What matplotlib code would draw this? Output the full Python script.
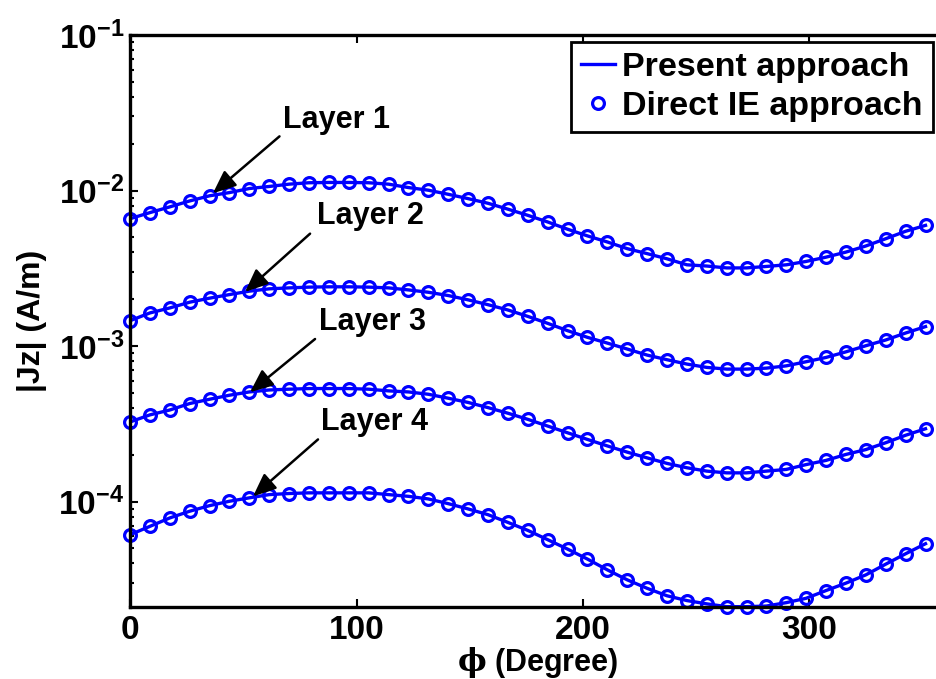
import numpy as np
import matplotlib.pyplot as plt
from matplotlib.ticker import LogLocator, FuncFormatter, NullFormatter, FixedLocator

plt.rcParams['font.family'] = 'Liberation Sans'
plt.rcParams['font.weight'] = 'bold'
plt.rcParams['mathtext.fontset'] = 'custom'
plt.rcParams['mathtext.bf'] = 'Liberation Sans:bold'
plt.rcParams['mathtext.rm'] = 'Liberation Sans:bold'
plt.rcParams['mathtext.it'] = 'DejaVu Serif'

# observation angles (degrees), 41 samples around the cylinder
phi = np.arange(41) * 360.0 / 41

# |Jz| on each layer (A/m)
layer1 = [6.59e-3, 7.21e-3, 7.85e-3, 8.57e-3, 9.25e-3, 9.70e-3, 1.030e-2, 1.062e-2,
          1.099e-2, 1.122e-2, 1.127e-2, 1.127e-2, 1.122e-2, 1.099e-2, 1.045e-2, 1.005e-2,
          9.46e-3, 8.87e-3, 8.28e-3, 7.59e-3, 6.93e-3, 6.28e-3, 5.64e-3, 5.11e-3,
          4.67e-3, 4.23e-3, 3.93e-3, 3.64e-3, 3.33e-3, 3.27e-3, 3.18e-3, 3.18e-3,
          3.25e-3, 3.33e-3, 3.50e-3, 3.73e-3, 4.02e-3, 4.40e-3, 4.90e-3, 5.47e-3, 5.97e-3]
layer2 = [1.455e-3, 1.633e-3, 1.758e-3, 1.914e-3, 2.032e-3, 2.143e-3, 2.254e-3, 2.333e-3,
          2.366e-3, 2.393e-3, 2.404e-3, 2.404e-3, 2.393e-3, 2.366e-3, 2.296e-3, 2.218e-3,
          2.113e-3, 1.982e-3, 1.845e-3, 1.706e-3, 1.552e-3, 1.400e-3, 1.256e-3, 1.138e-3,
          1.045e-3, 9.57e-4, 8.75e-4, 8.17e-4, 7.66e-4, 7.29e-4, 7.11e-4, 7.11e-4,
          7.21e-4, 7.46e-4, 7.93e-4, 8.45e-4, 9.18e-4, 1.005e-3, 1.094e-3, 1.213e-3, 1.334e-3]
layer3 = [3.25e-4, 3.61e-4, 3.88e-4, 4.27e-4, 4.55e-4, 4.83e-4, 5.07e-4, 5.22e-4,
          5.28e-4, 5.33e-4, 5.33e-4, 5.33e-4, 5.28e-4, 5.15e-4, 5.07e-4, 4.90e-4,
          4.62e-4, 4.34e-4, 4.02e-4, 3.70e-4, 3.38e-4, 3.06e-4, 2.77e-4, 2.51e-4,
          2.28e-4, 2.08e-4, 1.91e-4, 1.76e-4, 1.65e-4, 1.57e-4, 1.53e-4, 1.53e-4,
          1.57e-4, 1.61e-4, 1.73e-4, 1.84e-4, 2.01e-4, 2.16e-4, 2.39e-4, 2.67e-4, 2.94e-4]
layer4 = [6.12e-5, 6.93e-5, 7.85e-5, 8.67e-5, 9.42e-5, 1.005e-4, 1.057e-4, 1.109e-4,
          1.127e-4, 1.138e-4, 1.138e-4, 1.138e-4, 1.138e-4, 1.109e-4, 1.081e-4, 1.040e-4,
          9.70e-5, 8.97e-5, 8.24e-5, 7.35e-5, 6.53e-5, 5.69e-5, 4.95e-5, 4.27e-5,
          3.64e-5, 3.14e-5, 2.77e-5, 2.48e-5, 2.31e-5, 2.20e-5, 2.11e-5, 2.11e-5,
          2.13e-5, 2.24e-5, 2.39e-5, 2.68e-5, 2.99e-5, 3.38e-5, 3.96e-5, 4.62e-5, 5.36e-5]
layers = [layer1, layer2, layer3, layer4]
layer_names = ['Layer 1', 'Layer 2', 'Layer 3', 'Layer 4']

# annotation placement: label centre, arrow tail, arrow tip (phi, |Jz|)
label_pos = [(91, 2.83e-2), (106, 6.9e-3), (107, 1.43e-3), (108, 3.24e-4)]
arrow_tail = [(66, 2.23e-2), (79.5, 5.28e-3), (81.7, 1.11e-3), (83, 2.51e-4)]
arrow_tip = [(36.6, 9.6e-3), (50.8, 2.23e-3), (53, 5.05e-4), (54.3, 1.08e-4)]

W, H = 937, 679
fig = plt.figure(figsize=(W / 100, H / 100), dpi=100)
x0, x1, y0, y1 = 130, 945.4, 35, 607
ax = fig.add_axes([x0 / W, 1 - y1 / H, (x1 - x0) / W, (y1 - y0) / H])

blue = (0, 0, 1)
for i, vals in enumerate(layers):
    ax.plot(phi, vals, '-', color=blue, lw=2.4,
            label='Present approach' if i == 0 else None)
for i, vals in enumerate(layers):
    ax.plot(phi, vals, 'o', color=blue, mfc='none', ms=8.5, mew=2.3, clip_on=False,
            label='Direct IE approach' if i == 0 else None)

ax.set_yscale('log')
ax.set_xlim(0, 360)
ax.set_ylim(2.1e-5, 1e-1)

ax.xaxis.set_major_locator(FixedLocator([0, 100, 200, 300]))
ax.yaxis.set_major_locator(LogLocator(base=10, numticks=10))
ax.yaxis.set_minor_locator(LogLocator(base=10, subs=np.arange(2, 10), numticks=20))
ax.yaxis.set_minor_formatter(NullFormatter())
ax.yaxis.set_major_formatter(FuncFormatter(lambda v, p: r'$\mathbf{10^{%d}}$' % round(np.log10(v))))

ax.tick_params(which='both', direction='in', top=True, right=True, width=1.5)
ax.tick_params(which='major', length=5.5, labelsize=24)
ax.tick_params(which='minor', length=3)
ax.tick_params(axis='x', pad=6)
ax.tick_params(axis='y', pad=4)
for s in ax.spines.values():
    s.set_linewidth(2.4)

ax.set_xlabel(r'$\phi$ (Degree)', fontsize=22, fontweight='bold')
ax.xaxis.set_label_coords(0.5, -0.066)
ax.set_ylabel('|Jz| (A/m)', fontsize=23, fontweight='bold')
ax.yaxis.set_label_coords(-0.102, 0.5)

for name, lp, tail, tip in zip(layer_names, label_pos, arrow_tail, arrow_tip):
    ax.text(lp[0], lp[1], name, fontsize=22, fontweight='bold', ha='center', va='center')
    ax.annotate('', xy=tip, xytext=tail,
                arrowprops=dict(arrowstyle='-|>,head_length=0.7,head_width=0.3',
                                color='black', lw=1.8, mutation_scale=20,
                                shrinkA=0, shrinkB=0))

leg = ax.legend(loc='upper right', bbox_to_anchor=(933 / W, 1 - 42 / H),
                bbox_transform=fig.transFigure, borderaxespad=0, fontsize=24.5,
                handlelength=1.0, handletextpad=0.2, borderpad=0.3,
                labelspacing=0.22, fancybox=False, framealpha=1)
leg.get_frame().set_edgecolor('black')
leg.get_frame().set_linewidth(2.0)

fig.savefig('out.png', dpi=100)
